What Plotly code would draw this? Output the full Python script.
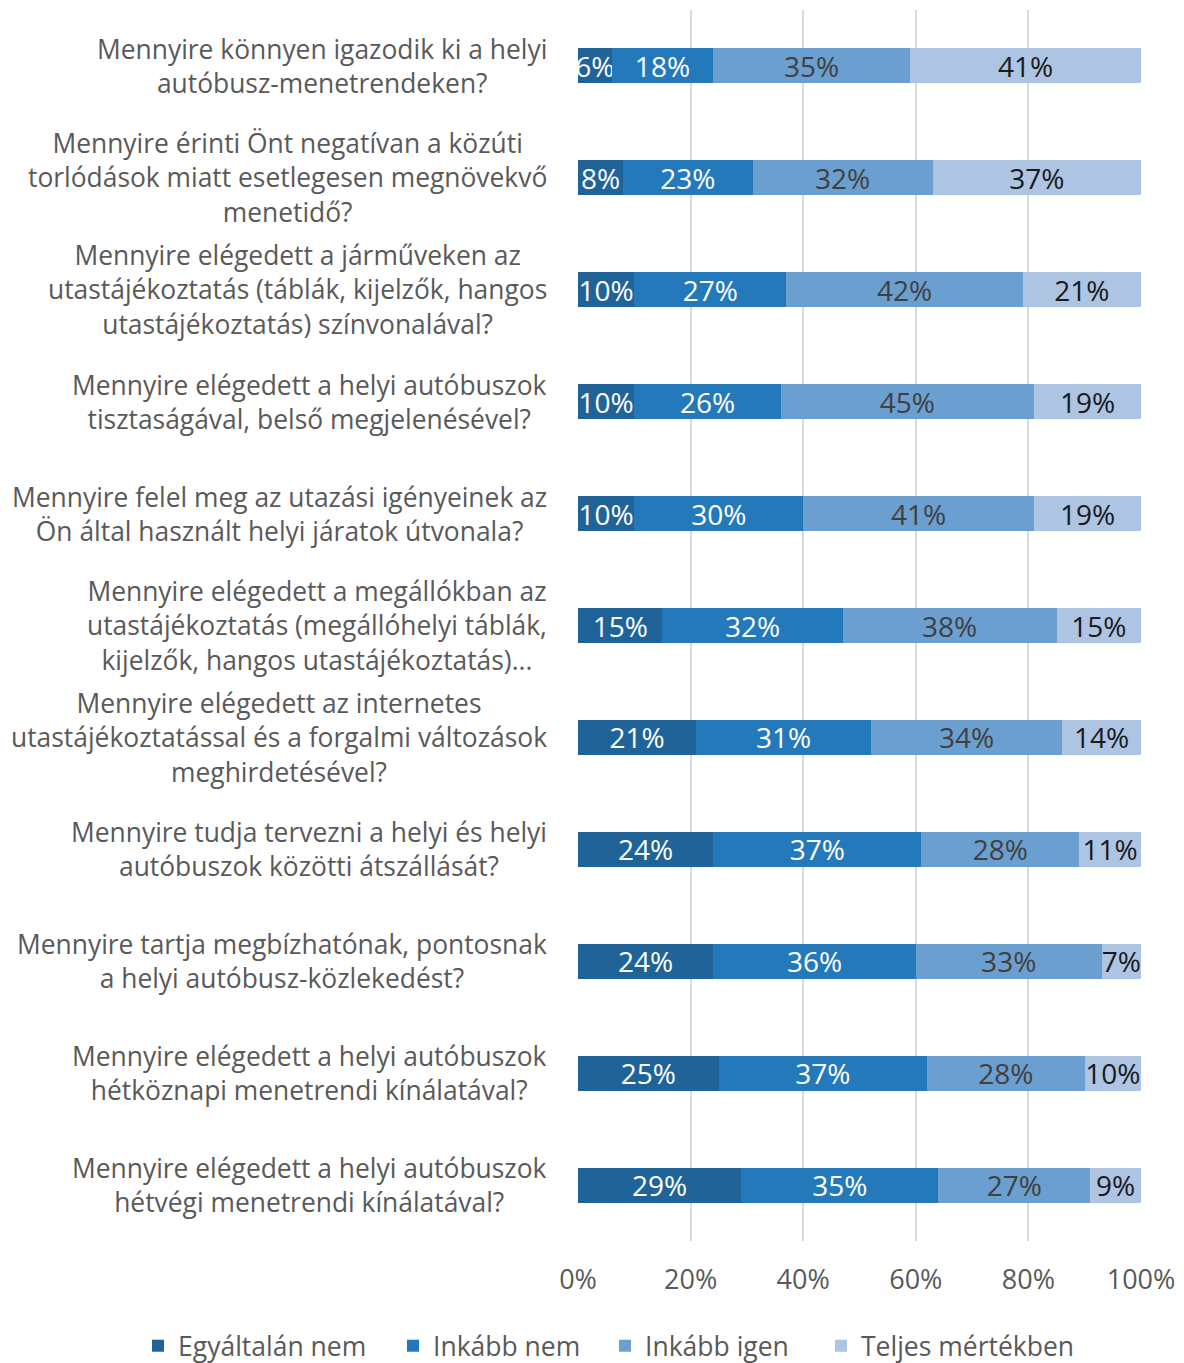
import plotly.graph_objects as go

categories = [
    "Mennyire könnyen igazodik ki a helyi<br>autóbusz-menetrendeken?",
    "Mennyire érinti Önt negatívan a közúti<br>torlódások miatt esetlegesen megnövekvő<br>menetidő?",
    "Mennyire elégedett a járműveken az<br>utastájékoztatás (táblák, kijelzők, hangos<br>utastájékoztatás) színvonalával?",
    "Mennyire elégedett a helyi autóbuszok<br>tisztaságával, belső megjelenésével?",
    "Mennyire felel meg az utazási igényeinek az<br>Ön által használt helyi járatok útvonala?",
    "Mennyire elégedett a megállókban az<br>utastájékoztatás (megállóhelyi táblák,<br>kijelzők, hangos utastájékoztatás)...",
    "Mennyire elégedett az internetes<br>utastájékoztatással és a forgalmi változások<br>meghirdetésével?",
    "Mennyire tudja tervezni a helyi és helyi<br>autóbuszok közötti átszállását?",
    "Mennyire tartja megbízhatónak, pontosnak<br>a helyi autóbusz-közlekedést?",
    "Mennyire elégedett a helyi autóbuszok<br>hétköznapi menetrendi kínálatával?",
    "Mennyire elégedett a helyi autóbuszok<br>hétvégi menetrendi kínálatával?",
]
series_names = ["Egyáltalán nem", "Inkább nem", "Inkább igen", "Teljes mértékben"]
egyaltalan_nem = [6, 8, 10, 10, 10, 15, 21, 24, 24, 25, 29]
inkabb_nem = [18, 23, 27, 26, 30, 32, 31, 37, 36, 37, 35]
inkabb_igen = [35, 32, 42, 45, 41, 38, 34, 28, 33, 28, 27]
teljes = [41, 37, 21, 19, 19, 15, 14, 11, 7, 10, 9]
tick_vals = [0, 20, 40, 60, 80, 100]
tick_text = ["0%", "20%", "40%", "60%", "80%", "100%"]

colors = ["#1f6399", "#2479ba", "#6b9fd0", "#adc4e3"]
text_colors = ["#ffffff", "#ffffff", "#404040", "#1a1a1a"]
FONT = "Open Sans"
FS_CAT = 26.4
FS_BAR = 28
FS_TICK = 27
FS_LEG = 26.5

legend_ids = ["legend", "legend2", "legend3", "legend4"]
legend_x = [-0.7815, -0.3286, 0.0480, 0.4316]

ids = list(range(len(categories)))
fig = go.Figure()
for name, vals, c, tc, lg in zip(series_names, [egyaltalan_nem, inkabb_nem, inkabb_igen, teljes],
                                 colors, text_colors, legend_ids):
    fig.add_trace(go.Bar(
        y=ids, x=vals, name=name, orientation="h", legend=lg,
        marker=dict(color=c, line=dict(width=0)),
        text=[f"{v}%" for v in vals], textposition="inside",
        insidetextanchor="middle", textangle=0, constraintext="none",
        textfont=dict(color=tc, size=FS_BAR, family=FONT),
        hoverinfo="skip",
    ))

for i, cat in enumerate(categories):
    fig.add_annotation(
        x=-0.051, xref="paper", y=i, yref="y", text=cat, showarrow=False,
        xanchor="right", yanchor="middle", align="center",
        font=dict(size=FS_CAT, family=FONT, color="#595959"),
    )

legend_common = dict(orientation="h", xref="paper", yref="paper", xanchor="left",
                     y=-0.0853, yanchor="middle",
                     font=dict(size=FS_LEG, family=FONT, color="#595959"),
                     itemwidth=30, bgcolor="rgba(0,0,0,0)")
legend_layout = {lg: dict(legend_common, x=lx) for lg, lx in zip(legend_ids, legend_x)}

# page body has an 8px margin; margins compensate for it
fig.update_layout(
    barmode="stack", bargap=0.687,
    width=1184, height=1363,
    margin=dict(l=570, r=51, t=2, b=130, autoexpand=False),
    paper_bgcolor="white", plot_bgcolor="white",
    font=dict(family=FONT, size=FS_TICK, color="#595959"),
    showlegend=True,
    xaxis=dict(range=[0, 100], tickvals=tick_vals, ticktext=tick_text,
               showgrid=True, gridcolor="#d9d9d9", gridwidth=2, zeroline=False,
               ticks="", ticklabelstandoff=20, tickfont=dict(size=FS_TICK, color="#595959")),
    yaxis=dict(autorange="reversed", showticklabels=False, showgrid=False,
               zeroline=False, ticks="", range=[len(categories) - 0.5, -0.5]),
    **legend_layout,
)
fig.write_html("out.html")
